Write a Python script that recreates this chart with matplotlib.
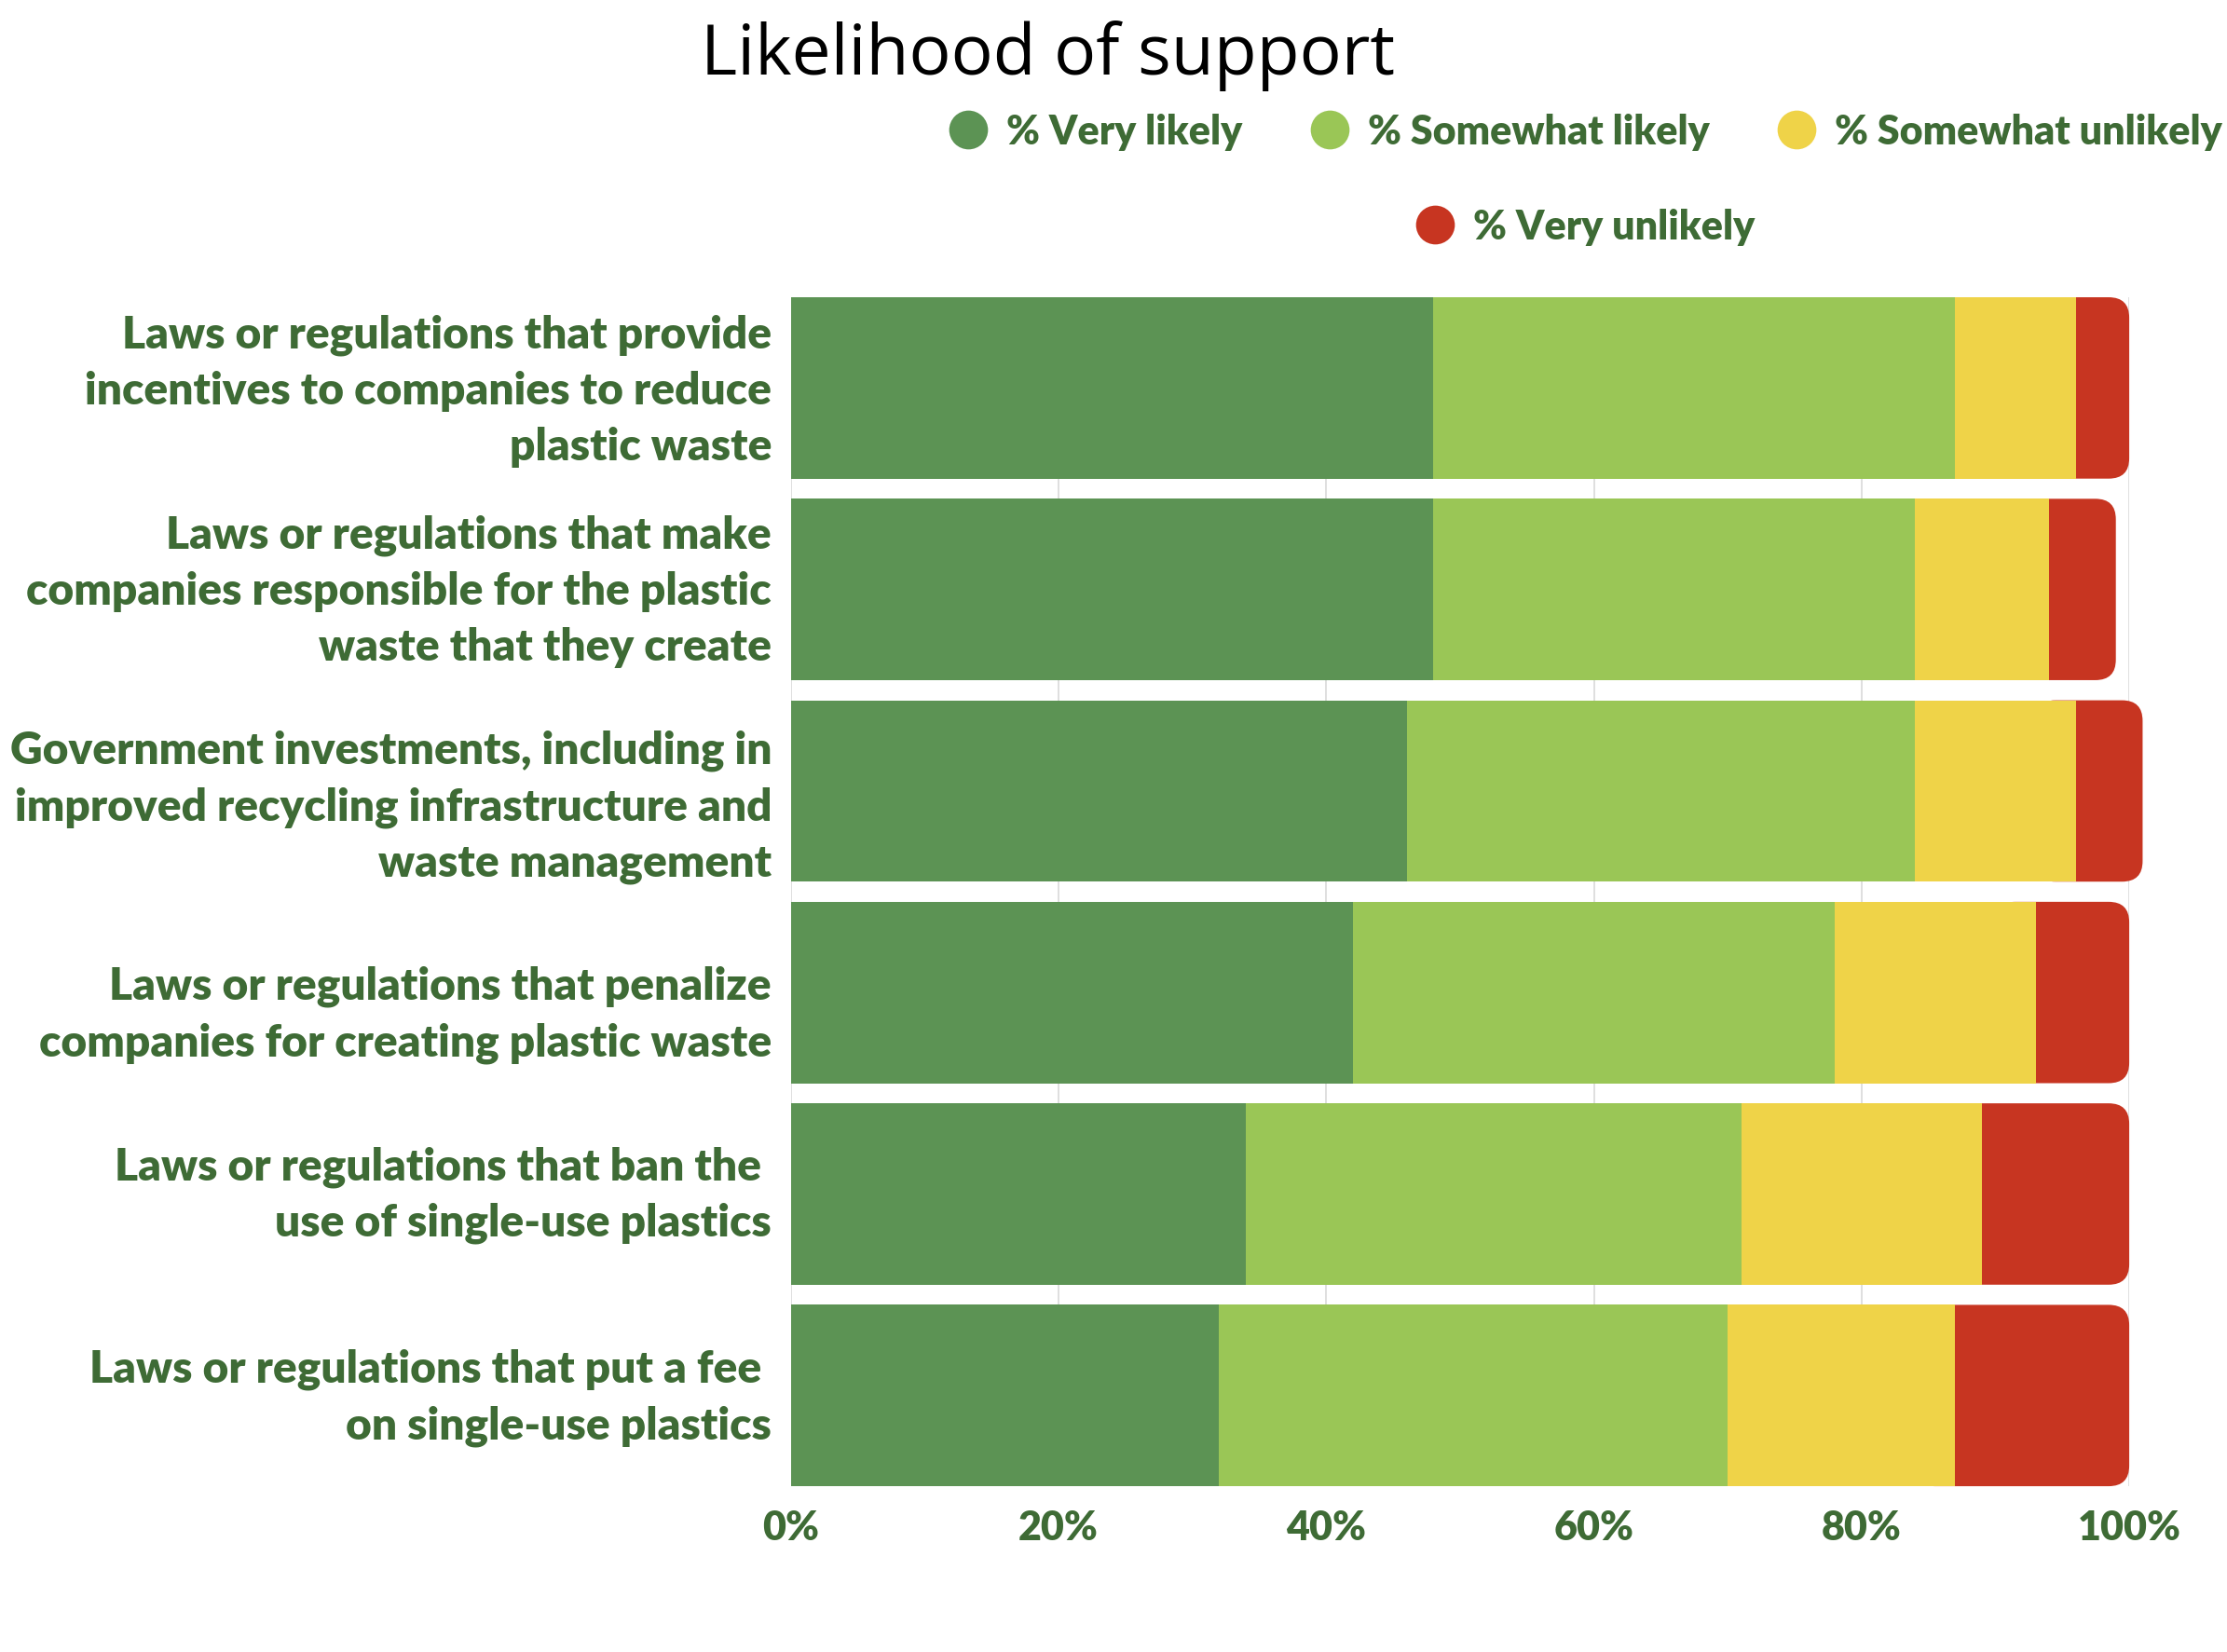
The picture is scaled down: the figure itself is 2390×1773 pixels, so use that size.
import numpy as np
import matplotlib
matplotlib.use("Agg")
import matplotlib.pyplot as plt
from matplotlib.patches import FancyBboxPatch
from matplotlib.lines import Line2D

# data
categories = [
    "Laws or regulations that provide\nincentives to companies to reduce\nplastic waste",
    "Laws or regulations that make\ncompanies responsible for the plastic\nwaste that they create",
    "Government investments, including in\nimproved recycling infrastructure and\nwaste management",
    "Laws or regulations that penalize\ncompanies for creating plastic waste",
    "Laws or regulations that ban the \nuse of single-use plastics",
    "Laws or regulations that put a fee \non single-use plastics",
]
very_likely = [48, 48, 46, 42, 34, 32]
somewhat_likely = [39, 36, 38, 36, 37, 38]
somewhat_unlikely = [9, 10, 12, 15, 18, 17]
very_unlikely = [4, 5, 5, 7, 11, 13]
series_names = ["% Very likely", "% Somewhat likely", "% Somewhat unlikely", "% Very unlikely"]
x_ticks = [0, 20, 40, 60, 80, 100]

colors = ["#5c9354", "#9ac656", "#efd348", "#c73521"]
txt_green = "#3e6b35"
lab_font = "Lato"
# small vertical nudges (points) so the label blocks sit like the original
label_nudge = [-1.5, -1, -12, -16.5, 0, -1]

fig = plt.figure(figsize=(23.9, 17.74), dpi=100)
ax = fig.add_axes([0.3552, 0.1003, 0.6009, 0.7193])

n = len(categories)
y = np.arange(n)[::-1]
h = 0.9
ax.set_xlim(0, 100)
ax.set_ylim(-0.45, n - 0.55)

left = np.zeros(n)
series = [very_likely, somewhat_likely, somewhat_unlikely, very_unlikely]
for i, vals in enumerate(series):
    vals = np.array(vals, dtype=float)
    bars = ax.barh(y, vals, left=left, height=h, color=colors[i], zorder=3, linewidth=0)
    if i == 3:
        # rounded right end: swap each rectangle for a rounded box
        fig.canvas.draw()
        bb = ax.get_window_extent()
        px_x = bb.width / 100.0
        px_y = bb.height / (ax.get_ylim()[1] - ax.get_ylim()[0])
        r_px = 22
        r = r_px / px_x
        for rect in bars:
            x0, y0, w, hh = rect.get_x(), rect.get_y(), rect.get_width(), rect.get_height()
            rect.set_visible(False)
            p = FancyBboxPatch((x0 - 2 * r, y0), w + 2 * r, hh,
                               boxstyle="round,pad=0,rounding_size=%f" % r,
                               mutation_aspect=px_x / px_y,
                               facecolor=colors[i], edgecolor="none", zorder=2,
                               clip_on=False)
            ax.add_patch(p)
    left = left + vals

# category labels, right aligned left of the axes
ax.set_yticks(y)
ax.set_yticklabels([])
for k, (yy, cat) in enumerate(zip(y, categories)):
    ax.annotate(cat, xy=(0, yy), xycoords=("axes fraction", "data"),
                xytext=(-15, label_nudge[k]), textcoords="offset points",
                ha="right", va="center", fontfamily=lab_font, fontweight="heavy",
                fontsize=34.5, color=txt_green, linespacing=1.44)

ax.set_xticks(x_ticks)
ax.set_xticklabels(["%d%%" % v for v in x_ticks], fontfamily=lab_font, fontweight="heavy",
                   fontsize=31, color=txt_green)
ax.tick_params(axis="both", length=0)
ax.tick_params(axis="x", pad=17)
ax.grid(axis="x", color="#d9d9d9", linewidth=1.2, zorder=0)
ax.set_axisbelow(True)
for s in ax.spines.values():
    s.set_visible(False)

fig.text(0.4707, 0.966, "Likelihood of support", fontfamily="Open Sans", fontsize=54,
         ha="center", va="center", color="black")

handles = [Line2D([], [], linestyle="none", marker="o", markersize=30,
                  markerfacecolor=c, markeredgecolor="none") for c in colors]
leg_kw = dict(frameon=False, prop={"family": lab_font, "weight": "heavy", "size": 31},
              handletextpad=0.45, columnspacing=1.68, handlelength=1.0, labelcolor=txt_green)
leg1 = fig.legend(handles[:3], series_names[:3], loc="center", bbox_to_anchor=(0.7117, 0.92),
                  ncol=3, **leg_kw)
leg2 = fig.legend(handles[3:], series_names[3:], loc="center", bbox_to_anchor=(0.7117, 0.8625),
                  ncol=1, **leg_kw)

fig.savefig("out.png", dpi=100)
